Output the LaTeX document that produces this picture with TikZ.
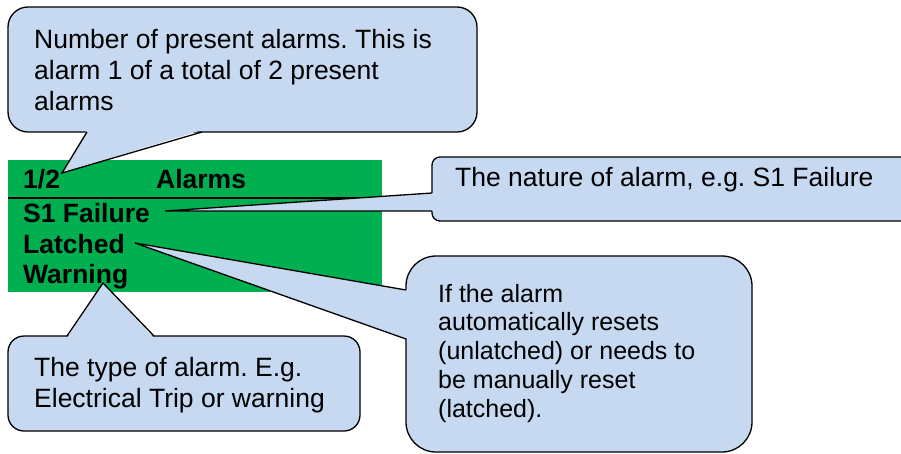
\documentclass[tikz,border=0pt]{standalone}
\usepackage{fontspec}
\setmainfont{Liberation Sans}
\usetikzlibrary{calc}
\definecolor{noteblue}{RGB}{198,217,241}
\definecolor{panelgreen}{RGB}{0,176,80}
\newcommand{\notesize}{\fontsize{26.5}{31}\selectfont}
\newcommand{\latchsize}{\fontsize{25}{28.8}\selectfont}
\frenchspacing

\begin{document}
\begin{tikzpicture}[
    x=1pt, y=-1pt,
    box/.style={draw, line width=1.3pt, fill=noteblue, anchor=north west, inner sep=0pt, outer sep=0pt, rounded corners=#1},
    note/.style={font=\notesize, align=left, inner sep=0pt, anchor=north west},
    tag/.style={font=\notesize\bfseries, inner sep=0pt, anchor=base west},
    pointer/.style={line width=1.3pt, line join=miter}
]
    \useasboundingbox (0,0) rectangle (901,453);

    % alarm panel
    \node[fill=panelgreen, anchor=north west, inner sep=0pt, outer sep=0pt, minimum width=374pt, minimum height=132pt] (panel) at (8,160) {};
    \draw[line width=1.5pt] ($(panel.north west)+(0,38)$) -- ($(panel.north east)+(0,38)$);
    \node[tag] (count) at (23,188) {1/2};
    \node[tag] (title) at (156,188) {Alarms};
    \node[tag] (name) at (23,222) {S1 Failure};
    \node[tag] (latch) at (23,253) {Latched};
    \node[tag] (kind) at (23,283) {Warning};

    % callout boxes
    \node[box=20pt, minimum width=469pt, minimum height=125pt] (countbox) at (8,7) {};
    \node[box=8pt, minimum width=480pt, minimum height=64pt] (namebox) at (432,157) {};
    \node[box=30pt, minimum width=346pt, minimum height=196pt] (latchbox) at (406,256) {};
    \node[box=16pt, minimum width=352pt, minimum height=95pt] (kindbox) at (8,336) {};

    % pointer tips
    \coordinate (counttip) at (62,173);
    \coordinate (nametip) at (165,211);
    \coordinate (latchtip) at (135,243);
    \coordinate (kindtip) at (103,283);

    \fill[noteblue] (counttip) -- ($(countbox.south west)+(79,-2)$) -- ($(countbox.south west)+(194,-2)$) -- cycle;
    \draw[pointer] ($(countbox.south west)+(79,0)$) -- (counttip) -- ($(countbox.south west)+(194,0)$);

    \fill[noteblue] (nametip) -- ($(namebox.north west)+(2,36)$) -- ($(namebox.north west)+(2,54)$) -- cycle;
    \draw[pointer] ($(namebox.north west)+(0,36)$) -- (nametip) -- ($(namebox.north west)+(0,54)$);

    \fill[noteblue] (latchtip) -- ($(latchbox.north west)+(2,34)$) -- ($(latchbox.north west)+(2,83)$) -- cycle;
    \draw[pointer] ($(latchbox.north west)+(0,34)$) -- (latchtip) -- ($(latchbox.north west)+(0,83)$);

    \fill[noteblue] (kindtip) -- ($(kindbox.north west)+(59,2)$) -- ($(kindbox.north west)+(146,2)$) -- cycle;
    \draw[pointer] ($(kindbox.north west)+(59,0)$) -- (kindtip) -- ($(kindbox.north west)+(146,0)$);

    % callout texts
    \node[note] (counttext) at (34,28.7) {Number of present alarms. This is\\alarm 1 of a total of 2 present\\alarms};
    \node[note, anchor=base west] (nametext) at (455,186) {The nature of alarm, e.g. S1 Failure};
    \node[note, font=\latchsize] (latchtext) at (438,283.8) {If the alarm\\automatically resets\\(unlatched) or needs to\\be manually reset\\(latched).};
    \node[note] (kindtext) at (34,356.7) {The type of alarm. E.g.\\Electrical Trip or warning};
\end{tikzpicture}
\end{document}
